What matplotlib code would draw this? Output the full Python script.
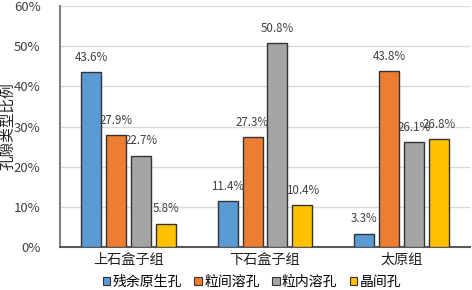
import matplotlib
matplotlib.use("Agg")
import matplotlib.pyplot as plt
from matplotlib.patches import Patch
import numpy as np

plt.rcParams['font.family'] = ['Noto Sans CJK SC', 'DejaVu Sans']

categories = ['上石盒子组', '下石盒子组', '太原组']
series_names = ['残余原生孔', '粒间溶孔', '粒内溶孔', '晶间孔']
residual = [43.6, 11.4, 3.3]
intergranular = [27.9, 27.3, 43.8]
intragranular = [22.7, 50.8, 26.1]
intercrystal = [5.8, 10.4, 26.8]
colors = ['#5B9BD5', '#ED7D31', '#A5A5A5', '#FFC000']
values = [residual, intergranular, intragranular, intercrystal]

fig = plt.figure(figsize=(4.72, 2.90), dpi=100)
ax = fig.add_axes([60/472, 1-247/290, 410/472, 241/290])

x = np.arange(len(categories))
w = 0.146
step = 0.182
for i, (vals, c) in enumerate(zip(values, colors)):
    xs = x + (i - 1.5) * step
    ax.bar(xs, vals, width=w, color=c, edgecolor='#333333', linewidth=1.0, zorder=3)
    for xi, v in zip(xs, vals):
        ax.annotate(f'{v:.1f}%', (xi, v), xytext=(0, 6), textcoords='offset points',
                    ha='center', va='bottom', fontsize=8.3, color='#404040', zorder=4)

ax.set_xlim(-0.5, 2.5)
ax.set_ylim(0, 60)
ax.set_yticks(range(0, 61, 10))
ax.set_yticklabels([f'{t}%' for t in range(0, 61, 10)], fontsize=9.5, color='#404040')
ax.set_xticks(x)
ax.set_xticklabels(categories, fontsize=10.2, color='#202020')
ax.tick_params(axis='both', length=0)
ax.tick_params(axis='y', pad=14)
ax.tick_params(axis='x', pad=4)
ax.grid(axis='y', color='#D9D9D9', linewidth=1, zorder=0)
for s in ['top', 'right']:
    ax.spines[s].set_visible(False)
ax.spines['left'].set_color('#808080')
ax.spines['left'].set_linewidth(1.5)
ax.spines['bottom'].set_color('#595959')
ax.spines['bottom'].set_linewidth(1.5)
ax.set_ylabel('孔隙类型比例', fontsize=10.5, color='#202020')
ax.yaxis.set_label_coords(-45/410, 0.5)

handles = [Patch(facecolor=c, edgecolor='#333333', linewidth=0.8) for c in colors]
fig.legend(handles, series_names, loc='center', bbox_to_anchor=(252/472, 1-282/290), ncol=4,
           frameon=False, fontsize=10, handlelength=0.55, handleheight=0.55,
           handletextpad=0.15, columnspacing=0.9, borderpad=0)

fig.savefig('out.png', dpi=100)
